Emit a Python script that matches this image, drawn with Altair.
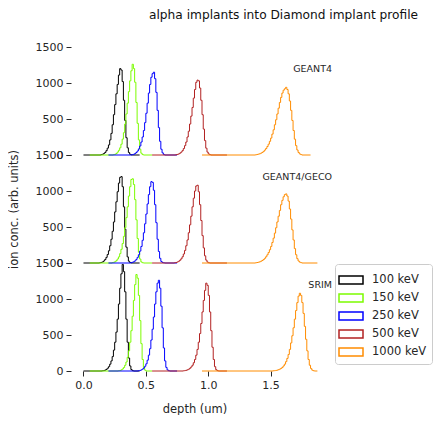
import altair as alt
import pandas as pd

BIN = 0.01
panels = ["GEANT4", "GEANT4/GECO", "SRIM"]
energies = ["100 keV", "150 keV", "250 keV", "500 keV", "1000 keV"]
colors = ["#000000", "#7CFC00", "#0000FF", "#B22222", "#FF8C00"]

# depth of first non-empty bin (um), per energy
g4_start = [0.14, 0.24, 0.39, 0.74, 1.38]
geco_start = [0.13, 0.23, 0.38, 0.73, 1.38]
srim_start = [0.15, 0.28, 0.44, 0.80, 1.52]

# GEANT4 counts per 0.01 um bin
g4_100 = [5, 10, 20, 35, 60, 95, 140, 210, 300, 420, 560, 700, 850, 980, 1110, 1200, 1180, 1020, 760, 480, 240, 100, 35, 10, 2]
g4_150 = [5, 10, 20, 40, 65, 100, 150, 220, 310, 430, 570, 720, 880, 1030, 1170, 1260, 1200, 1010, 730, 440, 210, 80, 25, 6]
g4_250 = [5, 10, 20, 35, 55, 85, 125, 180, 250, 340, 450, 580, 720, 860, 980, 1080, 1130, 1150, 1060, 870, 620, 380, 190, 80, 30, 8]
g4_500 = [4, 8, 15, 25, 40, 60, 90, 130, 180, 250, 330, 430, 540, 660, 790, 910, 1010, 1040, 1030, 930, 760, 560, 360, 200, 95, 40, 15, 5]
g4_1000 = [4, 8, 12, 18, 26, 36, 50, 68, 90, 118, 150, 190, 235, 290, 350, 420, 490, 570, 650, 730, 800, 860, 900, 920, 940, 910, 850, 750, 620, 480, 340, 220, 130, 70, 35, 15, 6]

# GEANT4/GECO counts
geco_100 = [4, 8, 15, 28, 48, 78, 118, 170, 240, 330, 440, 570, 710, 850, 990, 1110, 1190, 1200, 1060, 780, 470, 220, 85, 25, 6]
geco_150 = [5, 10, 18, 32, 55, 85, 130, 190, 270, 370, 490, 630, 780, 930, 1060, 1160, 1170, 1090, 880, 600, 340, 150, 55, 15, 4]
geco_250 = [5, 10, 18, 30, 50, 78, 115, 165, 230, 315, 420, 545, 680, 820, 950, 1060, 1130, 1120, 1010, 810, 560, 330, 160, 65, 22, 8, 3]
geco_500 = [4, 8, 14, 24, 38, 58, 86, 125, 175, 240, 320, 420, 530, 650, 780, 900, 1000, 1070, 1080, 990, 810, 590, 380, 210, 100, 40, 14, 4]
geco_1000 = [4, 7, 11, 17, 25, 35, 48, 65, 87, 114, 146, 185, 230, 285, 345, 415, 490, 570, 650, 730, 810, 870, 920, 950, 960, 930, 860, 750, 610, 460, 320, 200, 115, 60, 28, 12, 5]

# SRIM counts
srim_100 = [3, 6, 12, 22, 38, 60, 95, 140, 200, 290, 400, 540, 720, 930, 1150, 1350, 1480, 1380, 1100, 720, 400, 180, 70, 20, 5]
srim_150 = [4, 8, 15, 28, 48, 80, 125, 190, 280, 400, 560, 760, 980, 1200, 1340, 1290, 1050, 700, 380, 160, 50, 12]
srim_250 = [4, 8, 15, 26, 42, 66, 100, 150, 220, 310, 430, 580, 750, 930, 1100, 1220, 1260, 1150, 900, 600, 320, 140, 50, 15, 4]
srim_500 = [3, 6, 10, 16, 25, 38, 56, 80, 115, 160, 220, 300, 400, 520, 660, 820, 980, 1120, 1220, 1190, 1050, 820, 560, 330, 160, 60, 18, 5]
srim_1000 = [3, 5, 8, 12, 18, 26, 36, 50, 70, 95, 130, 175, 230, 300, 390, 490, 600, 720, 840, 950, 1040, 1080, 1050, 950, 800, 620, 440, 280, 160, 80, 35, 12, 4]

# histogram range (um) of each series
range_lo = [0.0, 0.05, 0.20, 0.55, 0.95]
range_hi = [[0.45, 0.55, 0.75, 1.15, 1.82],
            [0.45, 0.55, 0.75, 1.15, 1.875],
            [0.45, 0.55, 0.75, 1.15, 1.875]]

counts = [[g4_100, g4_150, g4_250, g4_500, g4_1000],
          [geco_100, geco_150, geco_250, geco_500, geco_1000],
          [srim_100, srim_150, srim_250, srim_500, srim_1000]]
starts = [g4_start, geco_start, srim_start]

rows = []
for p, pname in enumerate(panels):
    for e, ename in enumerate(energies):
        c = counts[p][e]
        s = starts[p][e]
        rows.append({"panel": pname, "energy": ename, "depth": range_lo[e], "count": 0})
        for i, v in enumerate(c):
            rows.append({"panel": pname, "energy": ename, "depth": round(s + i * BIN, 4), "count": v})
        rows.append({"panel": pname, "energy": ename, "depth": round(s + len(c) * BIN, 4), "count": 0})
        rows.append({"panel": pname, "energy": ename, "depth": range_hi[p][e], "count": 0})
df = pd.DataFrame(rows)

W, H = 262, 108
FONT = "DejaVu Sans"
TXT = "#262626"

legend = alt.Legend(
    title=None, orient="none", legendX=264, legendY=217,
    symbolType="M-1.2,-0.4H1.2V0.4H-1.2Z", symbolSize=400, symbolStrokeWidth=1.5,
    labelFontSize=11.5, labelFont=FONT, labelColor=TXT, labelOffset=10,
    fillColor="white", strokeColor="#cccccc", cornerRadius=3, padding=5,
    rowPadding=-3,
)


def panel(i):
    x_axis = None
    if i == 2:
        x_axis = alt.Axis(values=[0, 0.5, 1.0, 1.5], format=".1f", domain=False, grid=False,
                          tickSize=5, tickColor=TXT, labelFontSize=11, labelFont=FONT,
                          labelColor=TXT, labelPadding=3, title="depth (um)",
                          titleFontSize=11.5, titleFont=FONT, titleFontWeight="normal",
                          titleColor=TXT, titleX=123.5, titlePadding=13)
    y_axis = alt.Axis(values=[0, 500, 1000, 1500], format="d", domain=False, grid=False, tickSize=5,
                      tickColor=TXT, labelFontSize=11, labelFont=FONT, labelColor=TXT,
                      labelPadding=3, labelFlush=False, labelOverlap=False,
                      title="ion conc. (arb. units)" if i == 1 else None,
                      titleFontSize=11.5, titleFont=FONT, titleFontWeight="normal",
                      titleColor=TXT, titlePadding=16)
    lines = alt.Chart(df[df.panel == panels[i]]).mark_line(
        interpolate="step-after", strokeWidth=1.0
    ).encode(
        x=alt.X("depth:Q", scale=alt.Scale(domain=[-0.1, 2.0], nice=False, zero=False), axis=x_axis),
        y=alt.Y("count:Q", scale=alt.Scale(domain=[0, 1500], nice=False), axis=y_axis),
        color=alt.Color("energy:N", scale=alt.Scale(domain=energies, range=colors), legend=legend),
    )
    label = alt.Chart(pd.DataFrame({"t": [panels[i]]})).mark_text(
        align="right", baseline="middle", fontSize=9.5, font=FONT, color=TXT
    ).encode(x=alt.value(W - 1), y=alt.value(21.5), text="t:N")
    return alt.layer(lines, label).properties(width=W, height=H)


chart = alt.vconcat(panel(0), panel(1), panel(2), spacing=0, bounds="flush").properties(
    title=alt.TitleParams("alpha implants into Diamond implant profile", anchor="start", dx=141,
                          fontSize=12.2, fontWeight="normal", font=FONT, color="#111111", offset=20),
    padding={"left": 0, "top": 0, "right": 0, "bottom": 0},
).configure_view(stroke=None).resolve_scale(color="shared")

chart.save("out.html", embed_options={"renderer": "svg", "actions": False})
